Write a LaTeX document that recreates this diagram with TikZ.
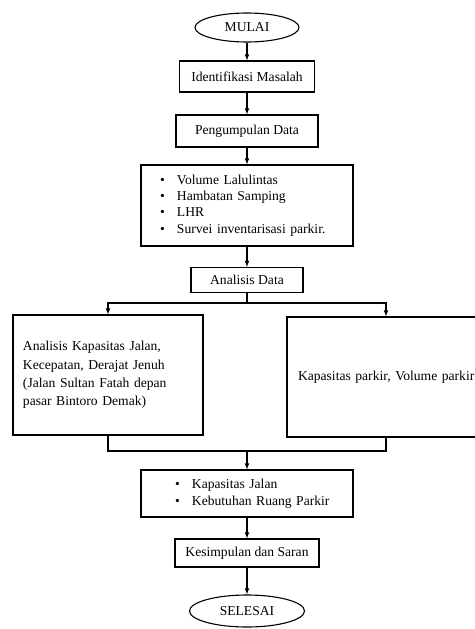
\documentclass[tikz,border=0pt]{standalone}
\usepackage{fontspec}
\setmainfont{Liberation Serif}
\usetikzlibrary{shapes.geometric}
\newcommand{\itm}{\makebox[17pt][l]{\textbullet}}

\begin{document}
\begin{tikzpicture}[>=latex,x=1pt,y=-1pt,line width=1.1pt,
	kotak/.style={rectangle,draw,inner sep=0pt,font=\fontsize{13.6}{16.3}\selectfont},
	oval/.style={ellipse,draw,inner sep=0pt,font=\fontsize{13.6}{16.3}\selectfont}]
	\useasboundingbox (0,0) rectangle (474,629);
	\node[oval,minimum width=104,minimum height=29] (ML) at (247,27.5) {MULAI};
	\node[kotak,minimum width=135,minimum height=31] (IM) at (247,76.5) {Identifikasi Masalah};
	\node[kotak,minimum width=142,minimum height=32] (PD) at (247,131) {Pengumpulan Data};
	\node[kotak,minimum width=212,minimum height=81,text width=174,align=left] (SV) at (247,205.5)
		{\itm Volume Lalulintas\\ \itm Hambatan Samping\\ \itm LHR\\ \itm Survei inventarisasi parkir.};
	\node[kotak,minimum width=112,minimum height=25] (AD) at (247,280) {Analisis Data};
	\node[kotak,minimum width=190,minimum height=120,text width=170,align=left,
		font=\fontsize{13.6}{18.4}\selectfont] (KJ) at (108,375)
		{Analisis Kapasitas Jalan,\\ Kecepatan, Derajat Jenuh\\ (Jalan Sultan Fatah depan\\ pasar Bintoro Demak)};
	\node[kotak,minimum width=198,minimum height=120,text width=176,align=left] (KP) at (386,377)
		{\mbox{Kapasitas parkir, Volume parkir}};
	\node[kotak,minimum width=212,minimum height=47,text width=144,align=left,
		font=\fontsize{13.6}{16.7}\selectfont] (HS) at (247,493.5)
		{\mbox{\itm Kapasitas Jalan}\\ \mbox{\itm Kebutuhan Ruang Parkir}};
	\node[kotak,minimum width=144,minimum height=28] (KS) at (247,553) {Kesimpulan dan Saran};
	\node[oval,minimum width=115,minimum height=32] (SL) at (247,611) {SELESAI};
	\coordinate (CB) at (247,303);
	\coordinate (GB) at (247,451);

	\draw[->] (ML) -- (IM);
	\draw[->] (IM) -- (PD);
	\draw[->] (PD) -- (SV);
	\draw[->] (SV) -- (AD);
	\draw (AD) -- (CB);
	\draw[->] (CB) -| (KJ);
	\draw[->] (CB) -| (KP);
	\draw (KJ) |- (GB);
	\draw (KP) |- (GB);
	\draw[->] (GB) -- (HS);
	\draw[->] (HS) -- (KS);
	\draw[->] (KS) -- (SL);
\end{tikzpicture}
\end{document}
